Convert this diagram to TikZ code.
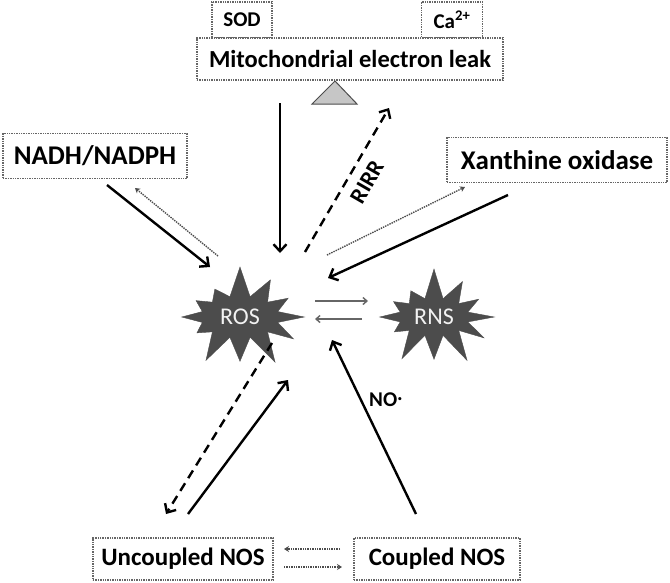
\documentclass[tikz,border=0pt]{standalone}
\usepackage{fontspec}
\setmainfont{Carlito}
\usetikzlibrary{arrows.meta,shapes.symbols}

\begin{document}
\begin{tikzpicture}[x=1pt,y=-1pt,
    box/.style={draw=gray!80!black,densely dotted,line width=1.4pt,fill=white,inner sep=0pt,font=\bfseries},
    burst/.style={starburst,starburst points=12,starburst point height=32pt,random starburst=7,
      fill=gray!60!black,draw=gray!60!black,text=gray!10,inner sep=0pt,font=\fontsize{24}{28}\selectfont},
    solidarrow/.style={line width=2.4pt,-{Straight Barb[length=7pt,width=13pt]}},
    dasharrow/.style={line width=2.4pt,dash pattern=on 9pt off 6pt,-{Straight Barb[length=7pt,width=13pt]}},
    dotarrow/.style={gray!60!black,line width=1.4pt,densely dotted,-{Stealth[length=5pt,width=6pt]}},
    thinarrow/.style={gray!80!black,line width=1.4pt,-{Straight Barb[length=4pt,width=7pt]}}]
\useasboundingbox (0,0) rectangle (670,582);

% top boxes
\node[box,minimum width=60pt,minimum height=36pt,font=\bfseries\fontsize{21}{24}\selectfont] (sod) at (242,20) {SOD};
\node[box,minimum width=61pt,minimum height=36pt,font=\bfseries\fontsize{21}{24}\selectfont] (ca) at (452,20) {Ca\textsuperscript{2+}};
\node[box,minimum width=306pt,minimum height=42pt,font=\bfseries\fontsize{24.5}{28}\selectfont] (mito) at (350,59) {Mitochondrial electron leak};
\draw[fill=gray!45,draw=gray!60!black,line width=1pt] (312,104) -- (335,81) -- (357,104) -- cycle;

\node[box,minimum width=184pt,minimum height=45pt,font=\bfseries\fontsize{27}{31}\selectfont] (nadh) at (95,156) {NADH/NADPH};
\node[box,minimum width=220pt,minimum height=45pt,font=\bfseries\fontsize{27}{31}\selectfont] (xo) at (557,160) {Xanthine oxidase};
\node[box,minimum width=180pt,minimum height=42pt,font=\bfseries\fontsize{25}{29}\selectfont] (uncoupled) at (183,559) {Uncoupled NOS};
\node[box,minimum width=166pt,minimum height=42pt,font=\bfseries\fontsize{25}{29}\selectfont] (coupled) at (437,559) {Coupled NOS};

% the two species
\node[burst,minimum width=142pt,minimum height=106pt] (ros) at (240,317) {ROS};
\node[burst,minimum width=134pt,minimum height=102pt] (rns) at (434,317) {RNS};

% arrow ends
\coordinate (m1) at (280,103);
\coordinate (m2) at (280,253);
\coordinate (r1) at (305,252);
\coordinate (r2) at (389,108);
\coordinate (n1) at (107,185);
\coordinate (n2) at (210,267);
\coordinate (n3) at (218,256);
\coordinate (n4) at (135,188);
\coordinate (x1) at (508,195);
\coordinate (x2) at (328,278);
\coordinate (x3) at (327,255);
\coordinate (x4) at (465,187);
\coordinate (c1) at (416,514);
\coordinate (c2) at (332,340);
\coordinate (u1) at (188,514);
\coordinate (u2) at (288,380);
\coordinate (u3) at (272,343);
\coordinate (u4) at (166,514);
\coordinate (s1) at (315,301);
\coordinate (s2) at (368,301);
\coordinate (s3) at (362,319);
\coordinate (s4) at (315,319);
\coordinate (b1) at (340,549);
\coordinate (b2) at (284,549);
\coordinate (b3) at (284,567);
\coordinate (b4) at (342,567);

\draw[solidarrow] (m1) -- (m2);
\draw[dasharrow] (r1) -- (r2);
\node[rotate=60,font=\bfseries\fontsize{23}{26}\selectfont] (rirr) at (367,182) {RIRR};
\draw[solidarrow] (n1) -- (n2);
\draw[dotarrow] (n3) -- (n4);
\draw[solidarrow] (x1) -- (x2);
\draw[dotarrow] (x3) -- (x4);
\draw[solidarrow] (c1) -- (c2);
\node[font=\bfseries\fontsize{21}{24}\selectfont] (no) at (386,400) {NO\raisebox{0.3em}{.}};
\draw[solidarrow] (u1) -- (u2);
\draw[dasharrow] (u3) -- (u4);
\draw[thinarrow] (s1) -- (s2);
\draw[thinarrow] (s3) -- (s4);
\draw[dotarrow] (b1) -- (b2);
\draw[dotarrow] (b3) -- (b4);
\end{tikzpicture}
\end{document}
